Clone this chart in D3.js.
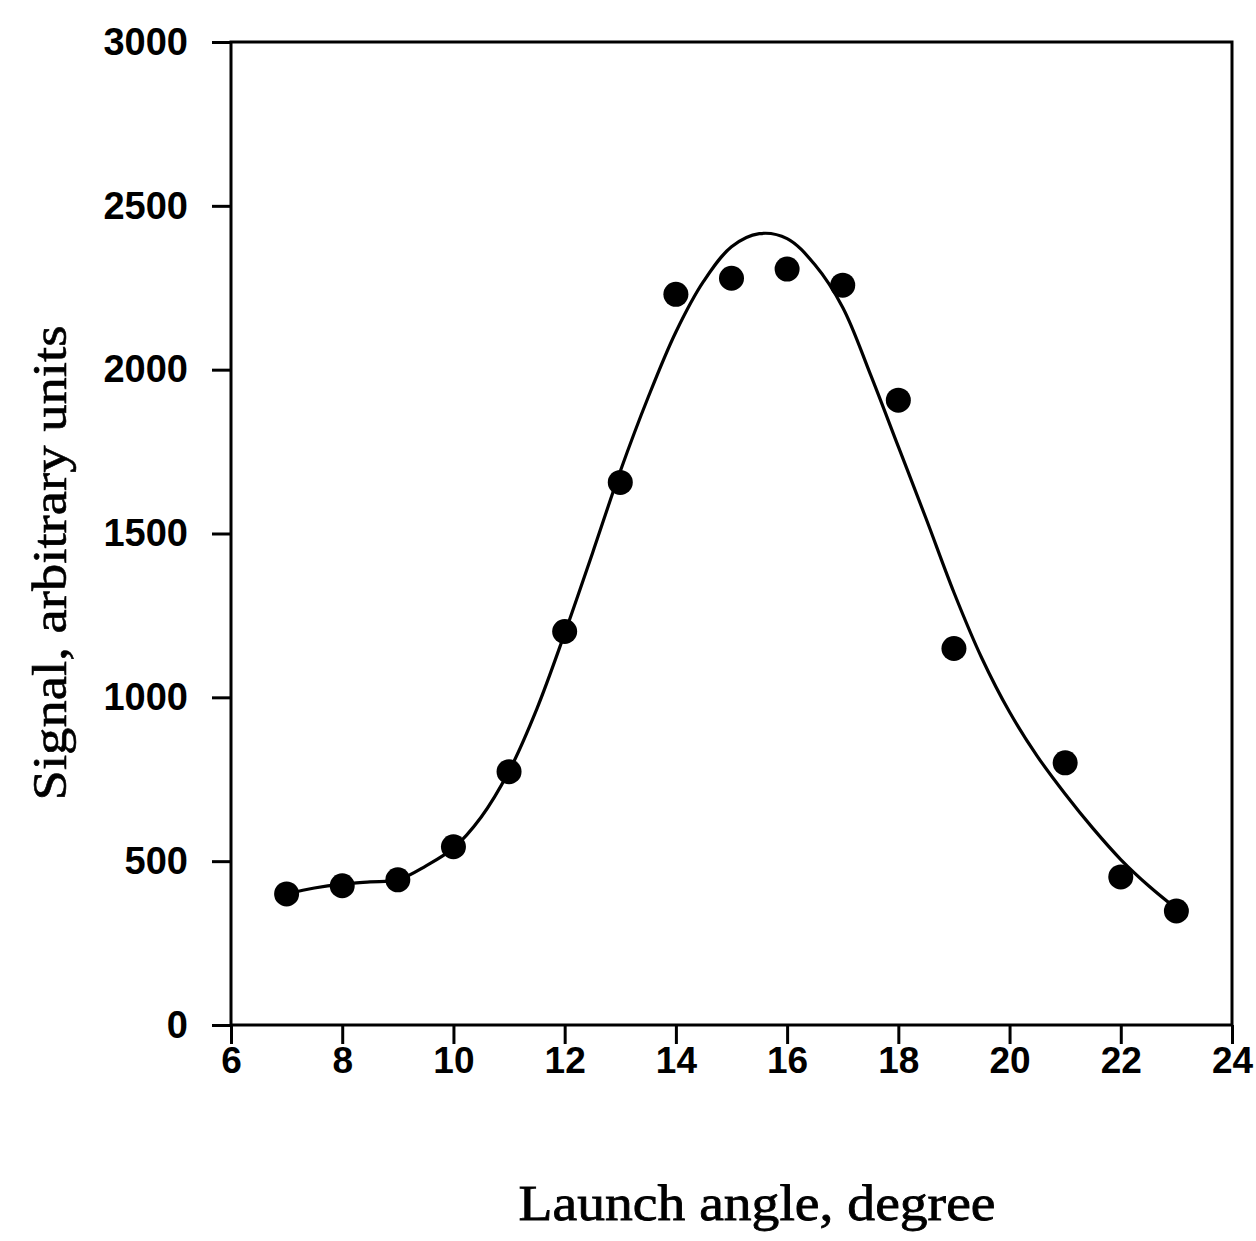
<!DOCTYPE html>
<html>
<head>
<meta charset="utf-8">
<script src="https://cdn.jsdelivr.net/npm/d3@7"></script>
<style>
  html, body { margin: 0; padding: 0; background: #fff; }
  svg { display: block; }
</style>
</head>
<body>
<script>
// Measured data points
const angles = [7, 8, 9, 10, 11, 12, 13, 14, 15, 16, 17, 18, 19, 21, 22, 23];
const signals = [400, 425, 443, 544, 773, 1201, 1656, 2230, 2279, 2307, 2258, 1907, 1149, 800, 452, 348];

// Fitted curve
const fitAngles = [7, 7.5, 8, 8.5, 9, 9.5, 10, 10.5, 11, 11.5, 12, 12.5, 13, 13.5, 14, 14.5, 15, 15.5, 16, 16.5, 17, 17.5, 18, 18.5, 19, 19.5, 20, 20.5, 21, 21.5, 22, 22.5, 23];
const fitSignals = [400, 418, 430, 437, 443, 485, 540, 635, 775, 965, 1195, 1440, 1690, 1915, 2115, 2270, 2375, 2415, 2400, 2320, 2190, 1985, 1765, 1545, 1320, 1120, 955, 820, 705, 600, 505, 425, 355];

const xTicks = [6, 8, 10, 12, 14, 16, 18, 20, 22, 24];
const yTicks = [0, 500, 1000, 1500, 2000, 2500, 3000];

const xTitle = "Launch angle, degree";
const yTitle = "Signal, arbitrary units";

const W = 1256, H = 1241;
const L = 231, R = 1232, T = 42, B = 1025;

const svg = d3.select("body").append("svg").attr("width", W).attr("height", H);

const x = d3.scaleLinear().domain([6, 24]).range([L, R]);
const y = d3.scaleLinear().domain([0, 3000]).range([B, T]);

// frame
svg.append("rect").attr("x", L).attr("y", T).attr("width", R - L).attr("height", B - T)
  .attr("fill", "none").attr("stroke", "#000").attr("stroke-width", 3);

// x axis
const xAxis = svg.append("g").attr("transform", `translate(0,${B})`)
  .call(d3.axisBottom(x).tickValues(xTicks).tickSize(19).tickPadding(3).tickFormat(d3.format("d")));
xAxis.select(".domain").remove();
xAxis.selectAll(".tick line").attr("stroke", "#000").attr("stroke-width", 3);
xAxis.selectAll(".tick text")
  .attr("font-family", "'Liberation Sans', Arial, sans-serif")
  .attr("font-weight", "bold").attr("font-size", 37).attr("fill", "#000");

// y axis
const yAxis = svg.append("g").attr("transform", `translate(${L},0)`)
  .call(d3.axisLeft(y).tickValues(yTicks).tickSize(19).tickPadding(24).tickFormat(d3.format("d")));
yAxis.select(".domain").remove();
yAxis.selectAll(".tick line").attr("stroke", "#000").attr("stroke-width", 3);
yAxis.selectAll(".tick text")
  .attr("font-family", "'Liberation Sans', Arial, sans-serif")
  .attr("font-weight", "bold").attr("font-size", 38).attr("fill", "#000");

// fitted curve
const line = d3.line().x((d, i) => x(fitAngles[i])).y(d => y(d)).curve(d3.curveCatmullRom.alpha(0.5));
svg.append("path").datum(fitSignals).attr("d", line)
  .attr("fill", "none").attr("stroke", "#000").attr("stroke-width", 3.2);

// points
svg.append("g").selectAll("circle").data(signals).join("circle")
  .attr("cx", (d, i) => x(angles[i])).attr("cy", d => y(d)).attr("r", 12.5).attr("fill", "#000");

// titles
svg.append("text").attr("x", 757).attr("y", 1220).attr("text-anchor", "middle")
  .attr("font-family", "'Liberation Serif', 'Times New Roman', serif")
  .attr("font-size", 50).attr("textLength", 477).attr("lengthAdjust", "spacingAndGlyphs")
  .attr("fill", "#000").attr("stroke", "#000").attr("stroke-width", 0.8).text(xTitle);

svg.append("text").attr("transform", "translate(66,563) rotate(-90)").attr("text-anchor", "middle")
  .attr("font-family", "'Liberation Serif', 'Times New Roman', serif")
  .attr("font-size", 48).attr("textLength", 475).attr("lengthAdjust", "spacingAndGlyphs")
  .attr("fill", "#000").attr("stroke", "#000").attr("stroke-width", 0.6).text(yTitle);
</script>
</body>
</html>
